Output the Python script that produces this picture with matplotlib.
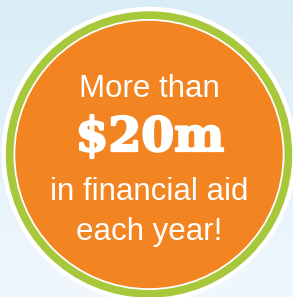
import numpy as np
import matplotlib
matplotlib.use("Agg")
import matplotlib.pyplot as plt
import matplotlib.patheffects as pe
from matplotlib.patches import Circle

# Content
lines = ["More than", "$20m", "in financial aid", "each year!"]
line_baselines = [97, 151, 200, 240]

W, H = 293, 297
fig = plt.figure(figsize=(W / 100, H / 100), dpi=100)
ax = fig.add_axes([0, 0, 1, 1])
ax.set_xlim(0, W)
ax.set_ylim(H, 0)
ax.axis("off")

# background gradient
top = np.array([217, 237, 247]) / 255
bot = np.array([240, 248, 253]) / 255
t = np.linspace(0, 1, 200)[:, None, None]
grad = top * (1 - t) + bot * t
grad = np.repeat(grad, 2, axis=1)
ax.imshow(grad, extent=[0, W, H, 0], aspect="auto", zorder=0)

cx, cy = 149, 154.5
ax.add_patch(Circle((cx, cy), 147, color="white", zorder=1))
ax.add_patch(Circle((cx, cy), 142.5, color="#a6c83a", zorder=2))
ax.add_patch(Circle((cx, cy), 134.8, color="white", zorder=3))
ax.add_patch(Circle((cx, cy), 133, color="#f38422", zorder=4))

sans = dict(family="Liberation Sans", fontsize=22.5, color="white",
            ha="center", va="baseline", zorder=5)
ax.text(cx, line_baselines[0], lines[0], **sans)
ax.text(cx + 1, line_baselines[1], lines[1], family="DejaVu Serif", fontweight="heavy",
        fontsize=34, color="white", ha="center", va="baseline", zorder=5,
        path_effects=[pe.withStroke(linewidth=1.6, foreground="white")])
ax.text(cx, line_baselines[2], lines[2], **sans)
ax.text(cx, line_baselines[3], lines[3], **sans)

fig.savefig("out.png", dpi=100)
